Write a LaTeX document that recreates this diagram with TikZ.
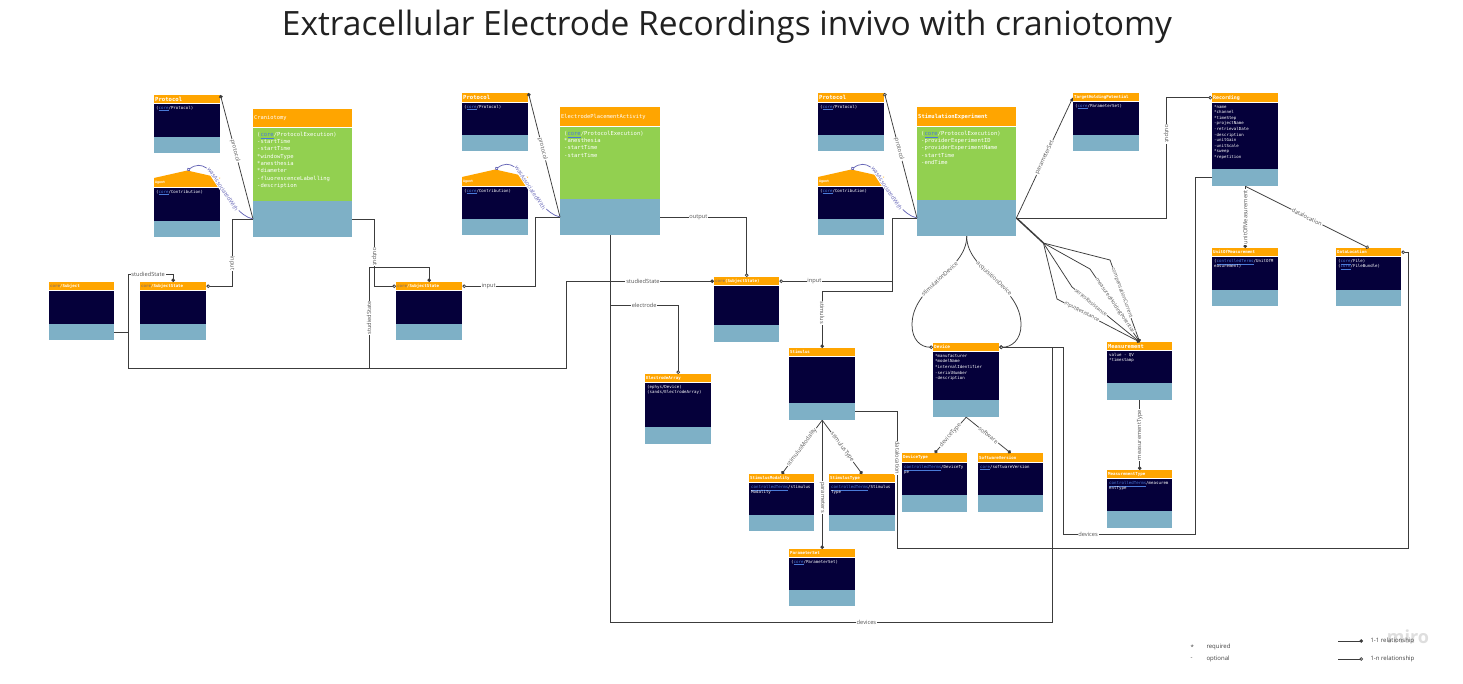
\documentclass[tikz,border=0pt]{standalone}
\usepackage{fontspec}
\setmainfont{Open Sans}
\setmonofont{DejaVu Sans Mono}
\usetikzlibrary{arrows.meta}

\definecolor{hdrorange}{HTML}{FFA500}
\definecolor{navy}{HTML}{05003A}
\definecolor{footblue}{HTML}{7EB0C6}
\definecolor{leafgreen}{HTML}{92D050}
\definecolor{linkgrey}{HTML}{3C3C3C}
\definecolor{lblgrey}{HTML}{555555}
\definecolor{coreblue}{HTML}{4A7AD8}
\definecolor{assocblue}{HTML}{6868B8}
\definecolor{coretan}{HTML}{9A7A55}

\newcommand{\fsize}[2]{\fontsize{#1}{#2}\selectfont}
\newcommand{\core}{\textcolor{coreblue}{\underline{core}}}
\newcommand{\cterms}{\textcolor{coreblue}{\underline{controlledTerms}}}

\tikzset{
  boxw/.store in=\boxw, boxw=66,
  bodycol/.store in=\bodycol, bodycol=navy,
  hdrtext/.style={text=white, font=\ttfamily\bfseries\fsize{4.1}{5}, inner sep=0pt},
  bodytext/.style={text=white, font=\ttfamily\fsize{4.1}{5.6}, align=left, inner sep=0pt},
  bigbox/.style={boxw=99, bodycol=leafgreen,
    hdrtext/.append style={font=\ttfamily\fsize{5.4}{6}},
    bodytext/.append style={font=\ttfamily\fsize{5.5}{7.3}, xshift=2pt, yshift=-2pt}},
  link/.style={draw=linkgrey, line width=0.75pt},
  lbl/.style={fill=white, text=lblgrey, font=\fsize{5.7}{6.5}, inner sep=0.8pt},
  fanlbl/.style={lbl, font=\fsize{5.2}{6}, inner sep=0.4pt},
  one/.style={-{Circle[length=3.6pt]}},
  many/.style={-{Circle[open, length=3.6pt, fill=white]}},
  assoc/.style={draw=assocblue, line width=0.75pt, -{Circle[open, length=3.6pt, fill=white]}},
}

% class box: header, body, footer
\newcommand{\umlclass}[9][]{%
  \begin{scope}[#1]
    \node[fill=hdrorange, inner sep=0pt, minimum width=\boxw pt, minimum height=#5pt, anchor=north west] (#2-h) at (#3,#4) {};
    \node[fill=\bodycol, inner sep=0pt, minimum width=\boxw pt, minimum height=#6pt, anchor=north west] (#2-b) at (#2-h.south west) {};
    \node[fill=footblue, inner sep=0pt, minimum width=\boxw pt, minimum height=#7pt, anchor=north west] (#2-f) at (#2-b.south west) {};
    \node[hdrtext, anchor=west] at ([xshift=1pt]#2-h.west) {#8};
    \node[bodytext, anchor=north west] at ([xshift=2pt, yshift=-2.5pt]#2-b.north west) {#9};
  \end{scope}}
% roof on top of an agent box
\newcommand{\agentroof}[1]{%
  \coordinate (#1-p) at ([yshift=7.5pt]#1-h.north);
  \fill[hdrorange] (#1-h.north west) -- (#1-p) -- (#1-h.north east) -- cycle;}

\begin{document}
\begin{tikzpicture}[x=1pt, y=-1pt]
  \useasboundingbox (0,0) rectangle (1463,683);%
  \fill[white] (0,0) rectangle (1463,683);%
  \node[font=\fsize{33.5}{38}, text=black!87] (title) at (727,27) {Extracellular Electrode Recordings invivo with craniotomy};%

  % craniotomy part
  \umlclass{prot1}{154}{95}{8}{33}{16}{\fsize{5.6}{6}Protocol}{(\core/Protocol)}%
  \umlclass{agent1}{154}{178}{9}{33}{16}{\fsize{3.3}{4}Agent}{(\core/Contribution)}%
  \agentroof{agent1}%
  \umlclass[bigbox]{cran}{253}{109}{18}{73}{36}{Craniotomy}{(\core/ProtocolExecution)\\-startTime\\-startTime\\*windowType\\*anesthesia\\*diameter\\-fluorescenceLabelling\\-description}%
  \umlclass[boxw=65]{subj}{49}{282}{8}{33}{16}{\textcolor{coretan}{core}/Subject}{}%
  \umlclass{ss1}{140}{282}{8}{33}{16}{\textcolor{coretan}{core}/SubjectState}{}%

  % electrode placement part
  \umlclass{prot2}{462}{93}{9}{32}{16}{\fsize{5.6}{6}Protocol}{(\core/Protocol)}%
  \umlclass{agent2}{462}{177}{9}{32}{16}{\fsize{3.3}{4}Agent}{(\core/Contribution)}%
  \agentroof{agent2}%
  \umlclass[bigbox, boxw=100]{epa}{560}{107}{19}{72}{36}{ElectrodePlacementActivity}{(\core/ProtocolExecution)\\*anesthesia\\-startTime\\-startTime}%
  \umlclass{ss2}{396}{282}{8}{33}{16}{\textcolor{coretan}{core}/SubjectState}{}%
  \umlclass[boxw=65]{ss3}{714}{277}{8}{39}{17}{\textcolor{coretan}{core}(SubjectState)}{}%
  \umlclass{elec}{645}{374}{8}{44}{17}{ElectrodeArray}{(ephys/Device)\\(sands/ElectrodeArray)}%
  \umlclass{stim}{789}{348}{8}{46}{17}{Stimulus}{}%

  % stimulation experiment part
  \umlclass{prot3}{818}{93}{9}{32}{16}{\fsize{5.6}{6}Protocol}{(\core/Protocol)}%
  \umlclass{agent3}{818}{177}{9}{32}{16}{\fsize{3.3}{4}Agent}{(\core/Contribution)}%
  \agentroof{agent3}%
  \umlclass[bigbox, hdrtext/.append style={font=\ttfamily\bfseries\fsize{5.5}{6}}]{stimexp}{917}{107}{19}{73}{36}{StimulationExperiment}{(\core/ProtocolExecution)\\-providerExperimentID\\-providerExperimentName\\-startTime\\-endTime}%
  \umlclass{thp}{1073}{93}{8}{33}{16}{TargetHoldingPotential}{(\core/ParameterSet)}%
  \umlclass{rec}{1212}{93}{9}{66}{17}{\fsize{4.9}{6}Recording}{*name\\*channel\\*timeStep\\-projectName\\-retrievalDate\\-description\\-unitGain\\-unitScale\\*sweep\\*repetition}%
  \umlclass{uom}{1212}{248}{8}{33}{16}{UnitOfMeasurement}{(\cterms/UnitOfM\\easurement)}%
  \umlclass[boxw=65]{dloc}{1336}{248}{8}{33}{16}{DataLocation}{(\core/File)\\(\core/FileBundle)}%
  \umlclass{dev}{933}{343}{8}{48}{17}{\fsize{4.4}{5}Device}{*manufacturer\\*modelName\\*internalIdentifier\\-serialNumber\\-description}%
  \umlclass[boxw=65]{smod}{749}{474}{8}{32}{16}{StimulusModality}{\cterms/stimulus\\Modality}%
  \umlclass{stype}{829}{474}{8}{32}{16}{StimulusType}{\cterms/Stimulus\\Type}%
  \umlclass{pset}{789}{549}{8}{32}{16}{ParameterSet}{(\core/ParameterSet)}%
  \umlclass[boxw=65]{dtype}{902}{453}{9}{32}{17}{DeviceType}{\cterms/DeviceTy\\pe}%
  \umlclass[boxw=65]{soft}{978}{453}{9}{32}{17}{SoftwareVersion}{\core/softwareVersion}%
  \umlclass[boxw=65]{meas}{1107}{342}{8}{32}{17}{\fsize{5.4}{6}Measurement}{value - QV\\*timestamp}%
  \umlclass[boxw=65]{mtype}{1107}{470}{8}{32}{17}{MeasurementType}{\cterms/measurem\\entType}%

  % craniotomy links
  \draw[link, one] (cran-f.west) -- node[lbl, sloped, pos=0.55]{protocol} (prot1-h.north east);%
  \draw[assoc] (cran-f.west) .. controls +(-28,-6) and +(28,-20) .. node[lbl, sloped, text=assocblue, pos=0.45]{wasAssociatedWith} (agent1-p);%
  \draw[link, many] (cran-f.west) -- ++(-21,0) |- node[lbl, rotate=-90, pos=0.33]{input} (ss1-h.east);%
  \draw[link, one] (subj-f.east) -- ++(14,0) coordinate (sjoin) |- node[lbl, pos=0.72]{studiedState} ([yshift=8pt]ss1-h.north) -- (ss1-h.north);%
  \draw[link, one] (sjoin) -- (sjoin |- 0,368) coordinate (sbot) -- (369,368) -- (369,267) -| (ss2-h.north);%
  \node[lbl, rotate=90] (ssl) at (369,318) {studiedState};%
  \draw[link, many] (cran-f.east) -- ++(22,0) |- node[lbl, rotate=-90, pos=0.28]{output} (ss2-h.west);%

  % electrode placement links
  \draw[link, one] (epa-f.west) -- node[lbl, sloped, pos=0.55]{protocol} (prot2-h.north east);%
  \draw[assoc] (epa-f.west) .. controls +(-28,-6) and +(28,-20) .. node[lbl, sloped, text=assocblue, pos=0.45]{wasAssociatedWith} (agent2-p);%
  \draw[link, many] (epa-f.west) -- ++(-25,0) |- node[lbl, pos=0.82]{input} (ss2-h.east);%
  \draw[link, many] (epa-f.east) -| node[lbl, pos=0.22]{output} (ss3-h.north);%
  \draw[link, one] (sbot) -- (566,368) |- node[lbl, pos=0.76]{studiedState} (ss3-h.west);%
  \draw[link, many] (epa-f.south) -- ++(0,70) -| node[lbl, pos=0.25]{electrode} (elec-h.north);%
  \draw[link, many] (epa-f.south) |- node[lbl, pos=0.79]{devices} (1052,622) |- (dev-h.east);%

  % stimulation experiment links
  \draw[link, many] (stimexp-f.west) -- node[lbl, sloped, pos=0.55]{protocol} (prot3-h.north east);%
  \draw[assoc] (stimexp-f.west) .. controls +(-28,-6) and +(28,-20) .. node[lbl, sloped, text=assocblue, pos=0.45]{wasAssociatedWith} (agent3-p);%
  \draw[link, many] (stimexp-f.west) -- ++(-25,0) |- node[lbl, pos=0.845]{input} (ss3-h.east);%
  \draw[link, one] (stimexp-f.west) -- ++(-25,0) |- ([yshift=57pt]stim-h.north) -- node[lbl, rotate=-90, pos=0.38]{stimulus} (stim-h.north);%
  \draw[link, -{Latex[length=4pt, width=3.5pt]}] (stimexp-f.east) -- node[lbl, sloped]{parameterSet} (thp-h.west);%
  \draw[link, many] (stimexp-f.east) -- ++(150,0) |- node[lbl, rotate=-90, pos=0.35]{output} (rec-h.west);%
  \draw[link, line width=1.5pt] (stimexp-f.east) -- ++(27,25) coordinate (fan);%
  \draw[link, one] (fan) -- (1110,260) -- node[fanlbl, sloped, pos=0.4]{compensationCurrent} (meas-h.north);%
  \draw[link, one] (fan) -- (1090,269) -- node[fanlbl, sloped, pos=0.5]{measuredHoldingPotential} (meas-h.north);%
  \draw[link, one] (fan) -- (1072,287) -- node[fanlbl, sloped, pos=0.28]{seriesResistance} (meas-h.north);%
  \draw[link, one] (fan) -- (1057,299) -- node[fanlbl, sloped, pos=0.3]{inputResistance} (meas-h.north);%
  \draw[link, many] (stimexp-f.south) .. controls +(0,35) and +(0,-40) .. node[lbl, sloped, pos=0.5]{stimulationDevice} (912,325) .. controls +(0,15) and +(-12,0) .. (dev-h.west);%
  \draw[link, many] (stimexp-f.south) .. controls +(0,35) and +(0,-40) .. node[lbl, sloped, pos=0.5]{acquisitionDevice} (1021,325) .. controls +(0,15) and +(12,0) .. (dev-h.east);%
  \draw[link, many] (stim-f.east) -- ++(42,0) |- node[lbl, rotate=-90, pos=0.17]{datalocation} (1408,548) |- (dloc-h.east);%

  % stimulus and device links
  \draw[link, one] (stim-f.south) -- node[lbl, sloped]{stimulusModality} (smod-h.north);%
  \draw[link, one] (stim-f.south) -- node[lbl, sloped]{stimulusType} (stype-h.north);%
  \draw[link, one] (stim-f.south) -- node[lbl, rotate=-90, pos=0.6]{parameters} (pset-h.north);%
  \draw[link, one] (dev-f.south) -- node[lbl, sloped]{deviceType} (dtype-h.north);%
  \draw[link, one] (dev-f.south) -- node[lbl, sloped]{software} (soft-h.north);%

  % recording links
  \draw[link, many] (rec-f.west) -- ++(-17,0) |- node[lbl, pos=0.905]{devices} (1063,534) |- (dev-h.east);%
  \draw[link, one] (rec-f.south) -- node[lbl, rotate=90]{unitOfMeasurement} (uom-h.north);%
  \draw[link, many] (rec-f.south) -- node[lbl, sloped]{datalocation} (dloc-h.north);%
  \draw[link, one] (meas-f.south) -- node[lbl, rotate=90]{measurementType} (mtype-h.north);%

  % legend
  \node[text=black!13, font=\bfseries\fsize{18}{18}] (miro) at (1408,637) {miro};%
  \node[anchor=west, text=black!75, font=\fsize{6}{7}] (star) at (1187,647) {*};%
  \node[anchor=west, text=black!75, font=\fsize{6}{7}] (req) at (1203,647) {required};%
  \node[anchor=west, text=black!75, font=\fsize{6}{7}] (dash) at (1187,659) {-};%
  \node[anchor=west, text=black!75, font=\fsize{6}{7}] (opt) at (1203,659) {optional};%
  \node[anchor=west, text=black!75, font=\fsize{6}{7}] (l1t) at (1367,641) {1-1 relationship};%
  \node[anchor=west, text=black!75, font=\fsize{6}{7}] (lnt) at (1367,659) {1-n relationship};%
  \coordinate (l1a) at (1338,641);%
  \coordinate (lna) at (1338,659);%
  \draw[link, one] (l1a) -- ([xshift=-4pt]l1t.west);%
  \draw[link, many] (lna) -- ([xshift=-4pt]lnt.west);%
\end{tikzpicture}
\end{document}
